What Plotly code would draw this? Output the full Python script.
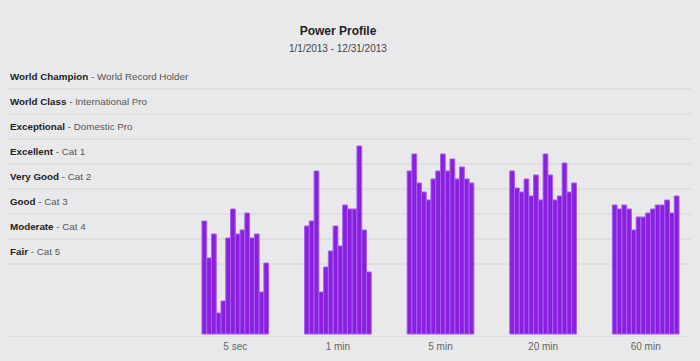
import plotly.graph_objects as go

# Durations (x categories)
categories = ["5 sec", "1 min", "5 min", "20 min", "60 min"]

# Bar heights per duration (14 periods each)
values_5sec = [113, 76, 100, 21, 33, 96, 125, 100, 104, 121, 96, 100, 42, 71]
values_1min = [108, 113, 163, 42, 67, 83, 108, 88, 129, 125, 125, 188, 104, 62]
values_5min = [163, 180, 151, 142, 134, 155, 163, 180, 163, 175, 155, 167, 155, 151]
values_20min = [163, 146, 142, 155, 138, 159, 134, 180, 159, 134, 138, 171, 142, 151]
values_60min = [129, 125, 129, 125, 104, 117, 117, 121, 125, 129, 129, 134, 121, 138]

# Level bands: label (bold part, regular part) and upper/lower boundary values
level_names = ["World Champion", "World Class", "Exceptional", "Excellent",
               "Very Good", "Good", "Moderate", "Fair"]
level_desc = ["World Record Holder", "International Pro", "Domestic Pro", "Cat 1",
              "Cat 2", "Cat 3", "Cat 4", "Cat 5"]
level_bounds = [270, 245, 220, 195, 170, 145, 120, 95, 70]
baseline_value = -3

groups = [values_5sec, values_1min, values_5min, values_20min, values_60min]
n_periods = len(values_5sec)

BG = "#e9e9eb"
GRID = "#d4d4d6"
FILL = "#8a1fe0"
EDGE = "#a65ff0"
FONT = "Liberation Sans, Arial, sans-serif"

fig = go.Figure()
for i in range(n_periods):
    fig.add_trace(go.Bar(
        x=categories,
        y=[g[i] for g in groups],
        marker=dict(color=FILL, line=dict(color=EDGE, width=1)),
        showlegend=False,
    ))

shapes = []
for v in level_bounds[1:] + [baseline_value]:
    shapes.append(dict(type="line", xref="paper", yref="y",
                       x0=-0.343, x1=0.988, y0=v, y1=v,
                       line=dict(color=GRID, width=1), layer="below"))

annotations = []
for i, (nm, ds) in enumerate(zip(level_names, level_desc)):
    yc = (level_bounds[i] + level_bounds[i + 1]) / 2
    annotations.append(dict(
        xref="paper", yref="y", x=-0.343, y=yc, xanchor="left", yanchor="middle",
        showarrow=False,
        text=f"<b>{nm}</b><span style='color:#555555'> - {ds}</span>",
        font=dict(family=FONT, size=9.8, color="#222222"),
    ))

annotations.append(dict(
    xref="paper", yref="paper", x=(338 - 184) / 513, y=1 + (64 - 49) / 273,
    xanchor="center", yanchor="middle", showarrow=False,
    text="1/1/2013 - 12/31/2013",
    font=dict(family=FONT, size=10, color="#444444"),
))

fig.update_layout(
    width=700, height=361,
    margin=dict(l=184, r=3, t=64, b=24),
    paper_bgcolor=BG, plot_bgcolor=BG,
    barmode="group", bargap=0.35, bargroupgap=0,
    title=dict(text="<b>Power Profile</b>", x=338 / 700, y=1 - 31 / 361,
               xanchor="center", yanchor="middle",
               font=dict(family=FONT, size=12, color="#222222")),
    xaxis=dict(showgrid=False, zeroline=False, showline=False, ticks="",
               ticklabelstandoff=2,
               tickfont=dict(family=FONT, size=10, color="#666666")),
    yaxis=dict(range=[baseline_value, level_bounds[0]], showgrid=False,
               zeroline=False, showticklabels=False, fixedrange=True),
    shapes=shapes,
    annotations=annotations,
)

fig.write_html(
    "out.html",
    config={"displayModeBar": False},
    post_script="document.body.style.margin='0';document.body.style.background='" + BG + "';",
)
